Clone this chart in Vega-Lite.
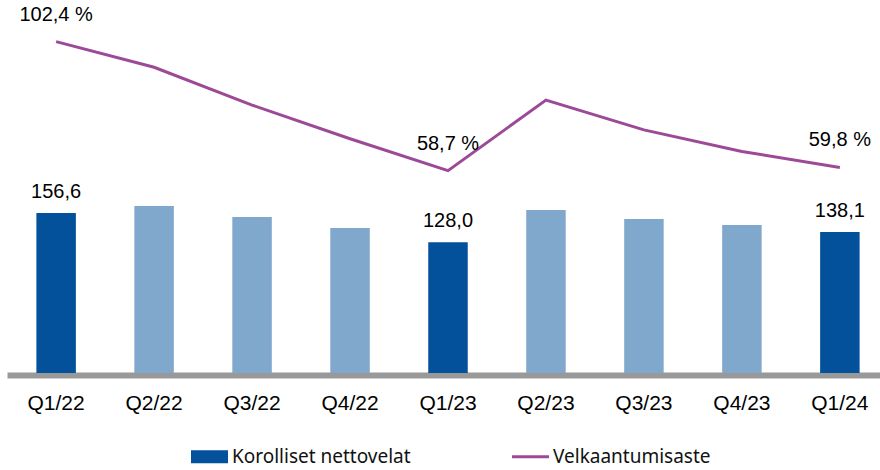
{
  "$schema": "https://vega.github.io/schema/vega-lite/v6.json",
  "autosize": {"type": "none"},
  "padding": {"left": 7, "top": 10, "right": 0, "bottom": 97},
  "width": 882,
  "height": 363,
  "background": "white",
  "config": {"view": {"stroke": null}, "font": "Liberation Sans"},
  "data": {"values": [
    {"q": "Q1/22", "debt": 156.6, "ratio": 102.4, "q1": true, "debtLabel": "156,6", "ratioLabel": "102,4 %"},
    {"q": "Q2/22", "debt": 163.5, "ratio": 93.7, "q1": false},
    {"q": "Q3/22", "debt": 152.7, "ratio": 80.9, "q1": false},
    {"q": "Q4/22", "debt": 141.9, "ratio": 69.5, "q1": false},
    {"q": "Q1/23", "debt": 128.0, "ratio": 58.7, "q1": true, "debtLabel": "128,0", "ratioLabel": "58,7 %"},
    {"q": "Q2/23", "debt": 159.5, "ratio": 82.6, "q1": false},
    {"q": "Q3/23", "debt": 150.7, "ratio": 72.5, "q1": false},
    {"q": "Q4/23", "debt": 144.9, "ratio": 65.2, "q1": false},
    {"q": "Q1/24", "debt": 138.1, "ratio": 59.8, "q1": true, "debtLabel": "138,1", "ratioLabel": "59,8 %"}
  ]},
  "encoding": {
    "x": {
      "field": "q", "type": "nominal", "sort": null,
      "scale": {"paddingInner": 0.597, "paddingOuter": 0.3},
      "axis": {"title": null, "labelAngle": 0, "ticks": false, "domainColor": "#999999", "domainWidth": 6, "offset": 2,
               "labelFont": "Liberation Sans", "labelFontSize": 21, "labelColor": "#000000",
               "labelPadding": 17, "grid": false}
    }
  },
  "layer": [
    {
      "layer": [
        {
          "mark": {"type": "bar"},
          "transform": [{"calculate": "'Korolliset nettovelat'", "as": "serie"}],
          "encoding": {
            "y": {"field": "debt", "type": "quantitative", "scale": {"domain": [0, 355.3], "nice": false}, "axis": null},
            "color": {
              "condition": {"test": "!datum.q1", "value": "#80a7cc"},
              "field": "serie", "type": "nominal",
              "scale": {"domain": ["Korolliset nettovelat", "Velkaantumisaste"], "range": ["#03509b", "#9c4a98"]},
              "legend": {
                "title": null, "orient": "none", "legendX": 193, "legendY": 437, "direction": "horizontal",
                "labelFont": "Noto Sans", "labelFontSize": 19, "labelColor": "#111111", "labelLimit": 400,
                "symbolSize": 1369, "columnPadding": 95, "labelOffset": 13,
                "encode": {"symbols": {"update": {
                  "shape": {"signal": "datum.value === 'Velkaantumisaste' ? 'M-1,0H1' : 'M-1,-0.35H1V0.35H-1Z'"},
                  "strokeWidth": {"signal": "datum.value === 'Velkaantumisaste' ? 3 : 0"},
                  "stroke": {"signal": "datum.value === 'Velkaantumisaste' ? '#9c4a98' : '#03509b'"},
                  "fill": {"signal": "datum.value === 'Velkaantumisaste' ? 'transparent' : '#03509b'"}
                }}}
              }
            }
          }
        },
        {
          "mark": {"type": "text", "dy": -21, "fontSize": 20, "color": "#000000", "baseline": "middle"},
          "transform": [{"filter": "datum.q1"}],
          "encoding": {
            "y": {"field": "debt", "type": "quantitative", "scale": {"domain": [0, 355.3], "nice": false}, "axis": null},
            "text": {"field": "debtLabel"}
          }
        }
      ]
    },
    {
      "layer": [
        {
          "mark": {"type": "line", "strokeWidth": 3},
          "transform": [{"calculate": "'Velkaantumisaste'", "as": "serie"}],
          "encoding": {
            "y": {"field": "ratio", "type": "quantitative", "scale": {"domain": [-9.8, 113.1], "nice": false, "zero": false}, "axis": null},
            "color": {"field": "serie", "type": "nominal"}
          }
        },
        {
          "mark": {"type": "text", "dy": -27, "dx": 0, "fontSize": 20, "color": "#000000", "baseline": "middle"},
          "transform": [{"filter": "datum.q1"}],
          "encoding": {
            "y": {"field": "ratio", "type": "quantitative", "scale": {"domain": [-9.8, 113.1], "nice": false, "zero": false}, "axis": null},
            "text": {"field": "ratioLabel"}
          }
        }
      ]
    }
  ],
  "resolve": {"scale": {"y": "independent"}}
}
